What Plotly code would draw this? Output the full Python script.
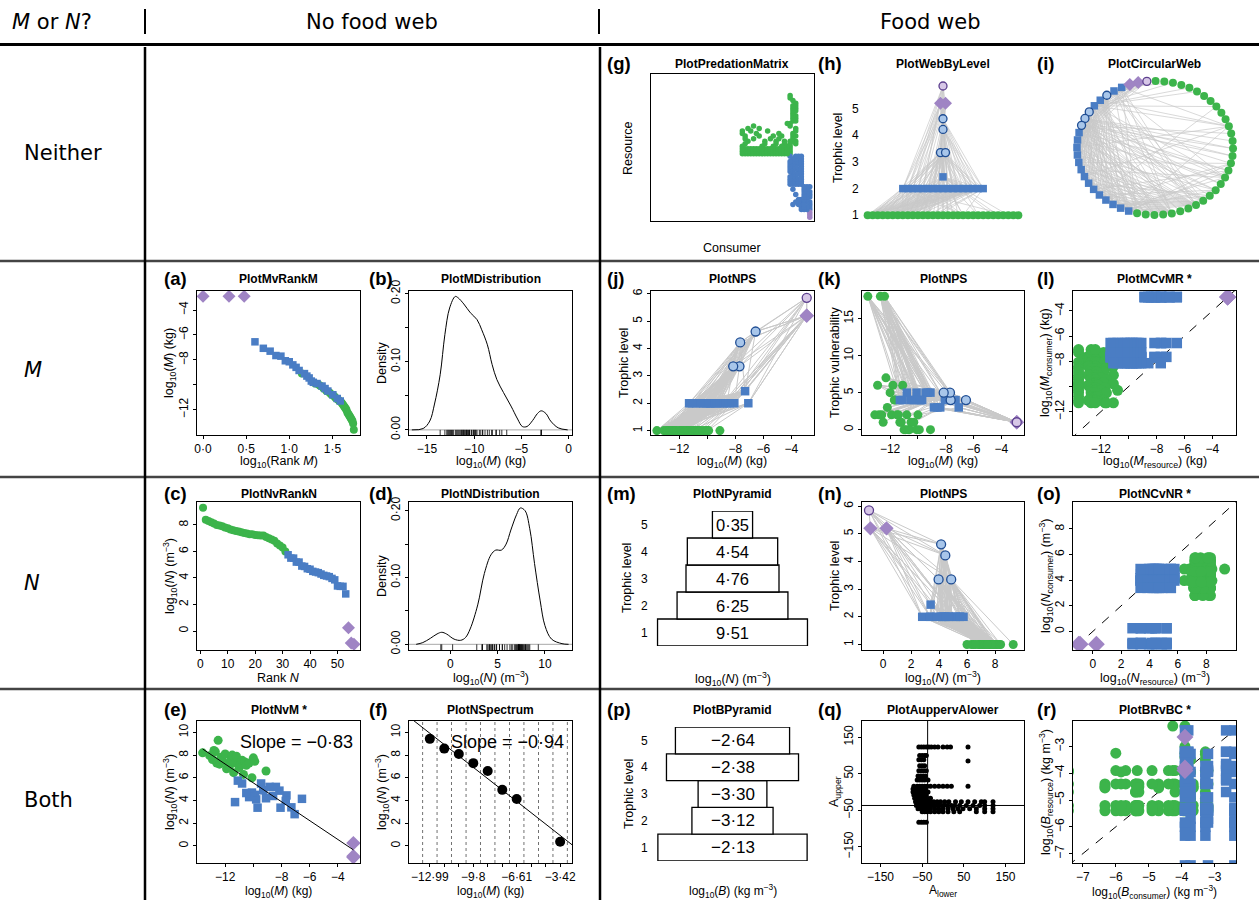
import numpy as np
import plotly.graph_objects as go

W, H = 1259, 900
RF = "Liberation Sans, Arial, Helvetica, sans-serif"
HF = "DejaVu Sans, sans-serif"

GREEN = "#3CB44B"
BLUE = "#4A7DC4"
PURPLE = "#9F84C4"
RB_FILL, RB_LINE = "#A8C6EA", "#1F4D93"
RP_FILL, RP_LINE = "#D7C7E7", "#5C3F8E"
LINK = "#C9C9C9"

# ---------------- data ----------------
GREEN_M = [-13.6, -13.1, -12.9, -12.8, -12.7, -12.6, -12.5, -12.4, -12.3, -12.2,
           -12.0, -11.9, -11.8, -11.7, -11.6, -11.5, -11.4, -11.3, -11.2, -11.1,
           -11.0, -10.9, -10.8, -10.7, -10.6, -10.5, -10.3, -10.1, -10.0, -9.9, -9.1]
GREEN_N = [8.2, 7.95, 7.6, 8.4, 8.3, 7.3, 9.3, 7.2, 7.8, 7.5,
           8.1, 6.8, 7.25, 7.0, 7.65, 8.0, 6.45, 7.35, 7.9, 7.2,
           6.9, 7.22, 7.55, 6.3, 7.4, 7.1, 7.3, 6.0, 7.76, 7.45, 6.6]
BLUE_M = [-6.55, -7.65, -7.7, -8.15, -7.3, -7.07, -8.07, -8.4, -8.6, -8.85,
          -9.1, -9.3, -9.45, -9.7, -9.8, -9.9, -10.1, -10.3, -10.5, -10.8, -11.1, -11.3]
BLUE_N = [4.15, 4.45, 3.97, 4.87, 3.4, 2.8, 3.37, 5.2, 4.4, 5.2,
          4.2, 4.9, 5.5, 3.37, 4.1, 4.5, 4.7, 4.3, 4.66, 5.5, 5.75, 3.86]
BLUE_TL = [4.62, 4.22, 3.35, 3.35, 2.44, 2, 2, 2, 2, 2, 2,
           2, 2, 2, 2, 2, 2, 2, 2, 2, 2, 2]
BLUE_RING = [1, 1, 1, 1, 0, 0, 0, 0, 0, 0, 0, 0, 0, 0, 0, 0, 0, 0, 0, 0, 0, 0]
PURPLE_M = [-2.9, -2.9, -2.9]
PURPLE_N = [-1.0, -0.9, 0.25]
PURPLE_TL = [5.85, 5.2, 5.2]
PURPLE_RING = [1, 0, 0]

DIETS = {
    "B0": "B0 B1 B2 B3 B4 B10 B11 B12 B13 B14 B15 B16 B17 B18 B19 B20 B21",
    "B1": "B2 B3 B4 B10 B11 B12 B14 B15 B16 B18 B19 B20 B21",
    "B2": "G1 G2 G3 G5 G8 G9 G11 G12 G14 G15 G16 G17 B3 B6 B10 B11 B12 B13 B14 B16 B17 B19 B20 B21",
    "B3": "G1 G2 G3 G5 G6 G8 G10 G11 G13 G15 G16 G18 B2 B8 B10 B11 B12 B13 B14 B15 B16 B17 B18 B19 B20",
    "B4": "G0 G4 G7 G8 G12 G19 G22 G25 G26 G28 B10 B11 B12 B13 B15 B16 B17 B18 B19 B21",
    "B5": "G0 G4 G7 G19 G28",
    "B6": "G0 G4 G7 G8 G12",
    "B7": "G0 G4 G7 G19 G2",
    "B8": "G0 G4 G7 G10 G13",
    "B9": "G0 G4 G7 G12 G8",
    "B10": "G0 G4 G7 G19 G2",
    "B11": "G0 G4 G7 G10",
    "B12": "G0 G4 G7 G14",
    "B13": "G0 G4 G7 G8 G12",
    "B14": "G0 G4 G7 G19",
    "B15": "G0 G4 G7 G2 G9",
    "B16": "G0 G4 G7 G13",
    "B17": "G0 G4 G7 G10 G22",
    "B18": "G0 G4 G7 G14",
    "B19": "G0 G4 G7 G8 G9",
    "B20": "G0 G4 G7 G2 G10 G12",
    "B21": "G0 G4 G7 G19 G13 G14",
    "P0": "B0 B1 B2 B3 B5 B6 B7 B9 P0 P1 P2",
    "P1": "B0 B1 B3 B4 B5 B6 B7 B8 B9",
    "P2": "B0 B1 B2 B4 B5 B6 B7 B8 B9",
}

MATRIX_ORDER = ["G30", "G29", "G27", "G24", "G23", "G21", "G20", "G26", "G25",
                "G18", "G17", "G16", "G15", "G11", "G6", "G5", "G3", "G1",
                "G28", "G22", "G9", "G14", "G13", "G2", "G10", "G8", "G12", "G19",
                "G7", "G4", "G0",
                "B21", "B20", "B19", "B18", "B17", "B16", "B15", "B14", "B13", "B12", "B11",
                "B10", "B9", "B8", "B7", "B6", "B5", "B4", "B3", "B2", "B1", "B0",
                "P2", "P1", "P0"]
CIRC_ORDER = ["P0", "P1", "P2", "B5", "B6", "B0", "B7", "B4", "B1", "B2", "B3",
              "B8", "B9", "B10", "B11", "B12", "B13", "B14", "B15", "B16", "B17", "B18",
              "B19", "B20", "B21",
              "G0", "G1", "G2", "G3", "G4", "G5", "G6", "G7", "G8", "G9", "G10", "G11",
              "G12", "G13", "G14", "G15", "G16", "G17", "G18", "G19", "G20", "G21", "G22",
              "G23", "G24", "G25", "G26", "G27", "G28", "G29", "G30"]

MDENS_X = [-16.6, -15.4, -14.7, -14.2, -13.6, -13.1, -12.6, -12.0, -11.7, -11.1, -10.4,
           -9.7, -9.2, -8.6, -8.1, -7.6, -6.9, -6.1, -5.4, -4.9, -4.4, -3.8, -3.3, -2.9,
           -2.4, -1.9, -1.1, -0.1]
MDENS_Y = [0.0, 0.002, 0.013, 0.038, 0.081, 0.140, 0.179, 0.196, 0.194, 0.185, 0.172,
           0.162, 0.147, 0.125, 0.096, 0.074, 0.055, 0.035, 0.016, 0.005, 0.005, 0.014,
           0.024, 0.028, 0.024, 0.013, 0.003, 0.0]
NDENS_X = [-3.6, -2.9, -2.1, -1.4, -0.9, -0.4, 0.4, 1.1, 1.6, 2.1, 2.9, 3.6, 4.3, 4.8,
           5.4, 5.9, 6.4, 7.0, 7.4, 7.9, 8.4, 8.9, 9.5, 10.0, 10.7, 11.8, 12.5]
NDENS_Y = [0.0, 0.0026, 0.009, 0.0155, 0.018, 0.0155, 0.0078, 0.006, 0.010, 0.023, 0.059,
           0.106, 0.134, 0.141, 0.141, 0.150, 0.171, 0.194, 0.204, 0.200, 0.173, 0.121,
           0.065, 0.028, 0.0078, 0.001, 0.0]

SPEC_CENTRES = [-12.99, -11.93, -10.86, -9.80, -8.74, -7.67, -6.61, -5.55, -4.48, -3.42]
SPEC_LABELS = ["\u221212\u00b799", "", "", "\u22129\u00b78", "", "", "\u22126\u00b761", "", "", "\u22123\u00b742"]
SPEC_EDGES = [-13.52, -12.46, -11.40, -10.33, -9.27, -8.21, -7.14, -6.08, -5.01, -3.95, -2.89]
SPEC_PM = [-12.99, -11.93, -10.86, -9.80, -8.74, -7.67, -6.61, -3.42]
SPEC_PN = [9.43, 8.57, 8.09, 7.29, 6.6, 4.94, 4.14, 0.37]
SLOPE_E, ICPT_E = -0.83, -2.75
SLOPE_F, ICPT_F = -0.94, -2.29

PYR_LEVELS = [1, 2, 3, 4, 5]
PYR_N = [9.51, 6.25, 4.76, 4.54, 0.35]
PYR_N_TXT = ["9\u00b751", "6\u00b725", "4\u00b776", "4\u00b754", "0\u00b735"]
PYR_B = [-2.13, -3.12, -3.30, -2.38, -2.64]
PYR_B_TXT = ["\u22122\u00b713", "\u22123\u00b712", "\u22123\u00b730", "\u22122\u00b738", "\u22122\u00b764"]

REF_ANGLE = -36.87
Q_POINTS = [(-58, 123), (-52, 123), (-46, 123), (-40, 123), (-34, 123), (-28, 123), (-20, 123),
            (-12, 123), (0, 123), (10, 123), (18, 123), (60, 123),
            (-56, 100), (-50, 100), (-44, 100), (-40, 100),
            (-58, 88), (-52, 88), (-46, 88), (60, 85),
            (-56, 72), (-50, 72), (-44, 72),
            (-58, 58), (-52, 58), (-46, 58), (-40, 58),
            (-60, 44), (-54, 44), (-48, 44), (-42, 44),
            (-62, 33), (-56, 33), (-50, 33), (-44, 33), (-36, 33),
            (-70, 16), (-62, 16), (-56, 16), (-50, 16), (-44, 16), (-38, 16), (-30, 16),
            (-20, 16), (-10, 16), (0, 16), (10, 16), (20, 16), (60, 16),
            (-72, 8), (-66, 8), (-60, 8), (-54, 8), (-48, 8), (-42, 8),
            (-72, 0), (-66, 0), (-60, 0), (-54, 0), (-48, 0), (-42, 0), (-36, 0),
            (-70, -8), (-64, -8), (-58, -8), (-52, -8), (-46, -8), (-40, -8),
            (-68, -17), (-62, -17), (-56, -17), (-50, -17), (-44, -17), (-38, -17), (-30, -17),
            (-66, -27), (-60, -27), (-54, -27), (-48, -27), (-42, -27), (-36, -27), (-30, -27),
            (-22, -27), (-14, -27), (-6, -27), (4, -27), (14, -27), (30, -27), (44, -27),
            (60, -27), (76, -27), (92, -27), (100, -27), (120, -27),
            (-64, -37), (-58, -37), (-52, -37), (-46, -37), (-40, -37), (-34, -37), (-26, -37),
            (-18, -37), (-10, -37), (0, -37), (10, -37), (20, -37), (28, -37), (40, -37),
            (56, -37), (72, -37), (88, -37), (100, -37), (120, -37),
            (-60, -46), (-54, -46), (-48, -46), (-42, -46), (-36, -46), (-30, -46), (-20, -46),
            (-10, -46), (0, -46), (12, -46), (24, -46), (36, -46), (48, -46), (64, -46),
            (80, -46), (100, -46), (120, -46),
            (-50, -54), (-44, -54), (-38, -54), (-30, -54), (-20, -54), (-10, -54), (0, -54),
            (12, -54), (26, -54), (40, -54), (80, -54), (100, -54), (120, -54),
            (-58, -83), (-52, -83), (-46, -83), (-40, -83)]

# ---------------- assemble species table ----------------
names, cat, M, N, TL, ring = [], [], [], [], [], []
for i, (m, n) in enumerate(zip(GREEN_M, GREEN_N)):
    names.append(f"G{i}"); cat.append("g"); M.append(m); N.append(n); TL.append(1.0); ring.append(0)
for i, (m, n) in enumerate(zip(BLUE_M, BLUE_N)):
    names.append(f"B{i}"); cat.append("b"); M.append(m); N.append(n); TL.append(BLUE_TL[i]); ring.append(BLUE_RING[i])
for i, (m, n) in enumerate(zip(PURPLE_M, PURPLE_N)):
    names.append(f"P{i}"); cat.append("p"); M.append(m); N.append(n); TL.append(PURPLE_TL[i]); ring.append(PURPLE_RING[i])
NS = len(names)
idx = {nm: i for i, nm in enumerate(names)}
B = [M[i] + N[i] for i in range(NS)]
links = [(idx[r], idx[c]) for c, diet in DIETS.items() for r in diet.split()]
vul = [0] * NS
for r, c in links:
    vul[r] += 1

# ---------------- figure helpers ----------------
fig = go.Figure()
layout = dict(width=W, height=H, margin=dict(l=0, r=0, t=0, b=0, autoexpand=False),
              paper_bgcolor="white", plot_bgcolor="white", showlegend=False)
ann, shp = [], []
nax = [0]
MINUS = "\u2212"


def lab(v):
    return f"{v:g}".replace("-", MINUS).replace(".", "\u00b7")


def make_axes(box, xr, yr, xt=None, xl=None, yt=None, yl=None, frame=True,
              yangle=-90, ticklen=3, lw=1):
    nax[0] += 1
    k = nax[0]
    s = "" if k == 1 else str(k)
    x0, y0, x1, y1 = box
    common = dict(showgrid=False, zeroline=False, showline=frame, mirror=frame,
                  linecolor="black", linewidth=lw, ticks="outside", ticklen=ticklen,
                  tickwidth=1, tickcolor="black", automargin=False,
                  tickfont=dict(family=RF, size=12, color="black"), fixedrange=True)
    xa = dict(common, domain=[x0 / W, x1 / W], range=xr, anchor="y" + s)
    ya = dict(common, domain=[1 - y1 / H, 1 - y0 / H], range=yr, anchor="x" + s,
              tickangle=yangle)
    if xt is None:
        xa.update(showticklabels=False, ticks="")
    else:
        xa.update(tickmode="array", tickvals=xt, ticktext=xl if xl else [lab(v) for v in xt])
    if yt is None:
        ya.update(showticklabels=False, ticks="")
    else:
        ya.update(tickmode="array", tickvals=yt, ticktext=yl if yl else [lab(v) for v in yt])
    layout["xaxis" + s] = xa
    layout["yaxis" + s] = ya
    if frame and xt is not None and yt is not None:
        # R-style inward ticks on the top and right edges of the box
        mirror_common = dict(showgrid=False, zeroline=False, showline=False,
                             ticks="inside", ticklen=3, tickwidth=1, tickcolor="black",
                             showticklabels=False, fixedrange=True, tickmode="array")
        layout[f"xaxis{k + 100}"] = dict(mirror_common, overlaying="x" + s, anchor="y" + s,
                                         side="top", range=xr, tickvals=xt)
        layout[f"yaxis{k + 100}"] = dict(mirror_common, overlaying="y" + s, anchor="x" + s,
                                         side="right", range=yr, tickvals=yt)
    return "x" + s, "y" + s


def text(x, y, s, size=12.5, angle=0, xanchor="center", family=RF):
    ann.append(dict(x=x / W, y=1 - y / H, xref="paper", yref="paper", text=s,
                    showarrow=False, textangle=angle, xanchor=xanchor, yanchor="middle",
                    font=dict(family=family, size=size, color="black")))


def hline(x0, x1, y, color="black", width=2):
    shp.append(dict(type="line", xref="paper", yref="paper", x0=x0 / W, x1=x1 / W,
                    y0=1 - y / H, y1=1 - y / H, line=dict(color=color, width=width)))


def vline(x, y0, y1, color="black", width=2):
    shp.append(dict(type="line", xref="paper", yref="paper", x0=x / W, x1=x / W,
                    y0=1 - y0 / H, y1=1 - y1 / H, line=dict(color=color, width=width)))


def marker_for(c, r, size):
    if c == "g":
        return dict(symbol="circle", color=GREEN, size=size, line=dict(width=0))
    if c == "b":
        if r:
            return dict(symbol="circle", color=RB_FILL, size=size, line=dict(color=RB_LINE, width=1.3))
        return dict(symbol="square", color=BLUE, size=size - 0.5, line=dict(width=0))
    if r:
        return dict(symbol="circle", color=RP_FILL, size=size, line=dict(color=RP_LINE, width=1.3))
    return dict(symbol="diamond", color=PURPLE, size=size + 2, line=dict(width=0))


def nodes(xs, ys, cats, rings, ax, size=9, clip=True):
    for c, r in [("g", 0), ("b", 0), ("p", 0), ("b", 1), ("p", 1)]:
        sel = [i for i in range(len(xs)) if cats[i] == c and rings[i] == r]
        if not sel:
            continue
        fig.add_trace(go.Scatter(x=[xs[i] for i in sel], y=[ys[i] for i in sel],
                                 mode="markers", marker=marker_for(c, r, size),
                                 xaxis=ax[0], yaxis=ax[1], hoverinfo="skip",
                                 cliponaxis=clip))


def segs(pairs, xv, yv, ax, color=LINK, width=1.0, dash=None):
    xs, ys = [], []
    for a, b in pairs:
        xs += [xv[a], xv[b], None]
        ys += [yv[a], yv[b], None]
    fig.add_trace(go.Scatter(x=xs, y=ys, mode="lines",
                             line=dict(color=color, width=width, dash=dash),
                             xaxis=ax[0], yaxis=ax[1], hoverinfo="skip"))


def line(xs, ys, ax, color="black", width=1, dash=None, shape="linear"):
    fig.add_trace(go.Scatter(x=xs, y=ys, mode="lines",
                             line=dict(color=color, width=width, dash=dash, shape=shape),
                             xaxis=ax[0], yaxis=ax[1], hoverinfo="skip"))


def rug(vals, y0, y1, ax):
    xs, ys = [], []
    for v in vals:
        xs += [v, v, None]
        ys += [y0, y1, None]
    fig.add_trace(go.Scatter(x=xs, y=ys, mode="lines", line=dict(color="black", width=0.8),
                             xaxis=ax[0], yaxis=ax[1], hoverinfo="skip"))


# layout geometry (pixels)
CA, CB, CC, CD, CE = (197, 360), (409, 572), (651, 814), (862, 1024), (1073, 1236)
R0, R1, R2, R3 = (74, 221), (291, 435), (502, 650), (721, 863)
TY = {0: 64, 1: 279, 2: 494, 3: 710}
XT = {1: 462, 2: 678, 3: 892}
LX = {"A": 162, "B": 367, "C": 605, "D": 816, "E": 1035}


def box(col, row):
    return (col[0], row[0], col[1], row[1])


def heading(letter, title, col, colkey, row):
    text(LX[colkey], TY[row] - 1, f"<b>({letter})</b>", size=18.5, xanchor="left")
    text((col[0] + col[1]) / 2, TY[row], f"<b>{title}</b>", size=12)


def xtitle(col, row, s):
    text((col[0] + col[1]) / 2, XT[row], s, size=12.5 if row < 3 else 12)


def ytitle(col, rowr, s):
    text(col[0] - 27, (rowr[0] + rowr[1]) / 2, s, angle=-90)


LOGM = "log<sub>10</sub>(<i>M</i>) (kg)"
LOGN = "log<sub>10</sub>(<i>N</i>) (m<sup>\u22123</sup>)"
MT = [-12, -10, -8, -6, -4]
MTL = [MINUS + "12", "", MINUS + "8", MINUS + "6", MINUS + "4"]

# ---------------- (a) M v rank M ----------------
ax = make_axes(box(CA, R1), [-0.07, 1.82], [-14.03, -2.47], xt=[0, 0.5, 1.0, 1.5],
               xl=["0\u00b70", "0\u00b75", "1\u00b70", "1\u00b75"],
               yt=[-12, -10, -8, -6, -4], yl=[MINUS + "12", "", MINUS + "8", MINUS + "6", MINUS + "4"])
order = sorted(range(NS), key=lambda i: -M[i])
lr = np.log10(np.arange(1, NS + 1))
nodes(list(lr), [M[i] for i in order], [cat[i] for i in order], [0] * NS, ax, size=8)
heading("a", "PlotMvRankM", CA, "A", 1)
xtitle(CA, 1, "log<sub>10</sub>(Rank <i>M</i>)")
ytitle(CA, R1, LOGM)

# ---------------- (b) M distribution ----------------
ax = make_axes(box(CB, R1), [-16.9, 0.36], [-0.0075, 0.204], xt=[-15, -10, -5, 0],
               yt=[0, 0.05, 0.10, 0.15, 0.20], yl=["0\u00b700", "", "0\u00b710", "", "0\u00b720"])
line([-16.9, 0.36], [0, 0], ax, color="#A8A8A8", width=1)
rug(M, -0.0075, 0.0, ax)
line(MDENS_X, MDENS_Y, ax, width=1, shape="spline")
heading("b", "PlotMDistribution", CB, "B", 1)
xtitle(CB, 1, LOGM)
ytitle(CB, R1, "Density")

# ---------------- (c) N v rank N ----------------
ax = make_axes(box(CA, R2), [-1.2, 58.2], [-1.43, 9.73], xt=[0, 10, 20, 30, 40, 50],
               yt=[0, 2, 4, 6, 8])
order = sorted(range(NS), key=lambda i: -N[i])
nodes(list(range(1, NS + 1)), [N[i] for i in order], [cat[i] for i in order], [0] * NS, ax, size=8)
heading("c", "PlotNvRankN", CA, "A", 2)
xtitle(CA, 2, "Rank <i>N</i>")
ytitle(CA, R2, LOGN)

# ---------------- (d) N distribution ----------------
ax = make_axes(box(CB, R2), [-4.36, 12.86], [-0.0085, 0.213], xt=[0, 5, 10],
               yt=[0, 0.05, 0.10, 0.15, 0.20], yl=["0\u00b700", "", "0\u00b710", "", "0\u00b720"])
line([-4.36, 12.86], [0, 0], ax, color="#A8A8A8", width=1)
rug(N, -0.0085, 0.0, ax)
line(NDENS_X, NDENS_Y, ax, width=1, shape="spline")
heading("d", "PlotNDistribution", CB, "B", 2)
xtitle(CB, 2, LOGN)
ytitle(CB, R2, "Density")

# ---------------- (e) N v M ----------------
ax = make_axes(box(CA, R3), [-14.0, -2.43], [-1.5, 11.0], xt=MT, xl=MTL, yt=[0, 2, 4, 6, 8, 10])
nodes(M, N, cat, [0] * NS, ax, size=9)
mx = [min(M), max(M)]
line(mx, [ICPT_E + SLOPE_E * v for v in mx], ax, width=1)
text(355, 742, "Slope = " + MINUS + "0\u00b783", size=18, xanchor="right")
heading("e", "PlotNvM *", CA, "A", 3)
xtitle(CA, 3, LOGM)
ytitle(CA, R3, LOGN)

# ---------------- (f) N spectrum ----------------
ax = make_axes(box(CB, R3), [-14.52, -2.55], [-1.5, 11.0], xt=SPEC_CENTRES, xl=SPEC_LABELS,
               yt=[0, 2, 4, 6, 8, 10])
xs, ys = [], []
for e in SPEC_EDGES:
    xs += [e, e, None]
    ys += [-1.5, 11.0, None]
fig.add_trace(go.Scatter(x=xs, y=ys, mode="lines", line=dict(color="#333333", width=0.7, dash="dot"),
                         xaxis=ax[0], yaxis=ax[1], hoverinfo="skip"))
fx = [-14.52, -2.55]
line(fx, [ICPT_F + SLOPE_F * v for v in fx], ax, width=1)
fig.add_trace(go.Scatter(x=SPEC_PM, y=SPEC_PN, mode="markers",
                         marker=dict(color="black", size=10), xaxis=ax[0], yaxis=ax[1],
                         hoverinfo="skip"))
text(566, 742, "Slope = " + MINUS + "0\u00b794", size=18, xanchor="right")
heading("f", "PlotNSpectrum", CB, "B", 3)
xtitle(CB, 3, LOGM)
ytitle(CB, R3, LOGN)

# ---------------- (g) predation matrix ----------------
ax = make_axes(box(CC, R0), [-1.5, 56.5], [56.5, -1.5], lw=1.4)
mpos = {nm: i for i, nm in enumerate(MATRIX_ORDER)}
gx = [mpos[names[c]] for r, c in links]
gy = [mpos[names[r]] for r, c in links]
gcol = [{"g": GREEN, "b": BLUE, "p": PURPLE}[cat[r]] for r, c in links]
fig.add_trace(go.Scatter(x=gx, y=gy, mode="markers",
                         marker=dict(color=gcol, size=5.5, symbol="circle", line=dict(width=0)),
                         xaxis=ax[0], yaxis=ax[1], hoverinfo="skip"))
heading("g", "PlotPredationMatrix", CC, "C", 0)
text(732, 248, "Consumer")
text(628, 148, "Resource", angle=-90)

# ---------------- (h) web by level ----------------
ax = make_axes(box(CD, R0), [0, 1], [0.784, 6.3], yt=[1, 2, 3, 4, 5], frame=False,
               yangle=0, ticklen=0)
groups = {}
for i in range(NS):
    groups.setdefault(TL[i], []).append(i)
hx = [0.0] * NS
for tl, mem in groups.items():
    for j, i in enumerate(mem):
        hx[i] = 0.5 + (j - (len(mem) - 1) / 2) * 0.031
segs(links, hx, TL, ax, width=0.7)
nodes(hx, TL, cat, ring, ax, size=8, clip=False)
heading("h", "PlotWebByLevel", CD, "D", 0)
text(838, 148, "Trophic level", angle=-90)

# ---------------- (i) circular web ----------------
ax = make_axes(box(CE, R0), [-1.051, 1.038], [-1.09, 1.104], frame=False)
cx, cy = [0.0] * NS, [0.0] * NS
for k, nm in enumerate(CIRC_ORDER):
    a = np.deg2rad(96 + k * 360.0 / NS)
    cx[idx[nm]] = float(np.cos(a))
    cy[idx[nm]] = float(np.sin(a))
segs(links, cx, cy, ax, width=0.7)
nodes(cx, cy, cat, ring, ax, size=8, clip=False)
heading("i", "PlotCircularWeb", CE, "E", 0)

# ---------------- (j) NPS: TL v M ----------------
ax = make_axes(box(CC, R1), [-14.02, -2.38], [0.84, 6.1], xt=MT, xl=MTL, yt=[1, 2, 3, 4, 5, 6])
segs(links, M, TL, ax, width=1)
nodes(M, TL, cat, ring, ax, size=9)
heading("j", "PlotNPS", CC, "C", 1)
xtitle(CC, 1, LOGM)
ytitle(CC, R1, "Trophic level")

# ---------------- (k) NPS: vulnerability v M ----------------
ax = make_axes(box(CD, R1), [-14.02, -2.38], [-0.72, 18.72], xt=MT, xl=MTL, yt=[0, 5, 10, 15])
segs(links, M, vul, ax, width=1)
nodes(M, vul, cat, ring, ax, size=9)
heading("k", "PlotNPS", CD, "D", 1)
xtitle(CD, 1, LOGM)
ytitle(CD, R1, "Trophic vulnerability")

# ---------------- (l) M consumer v M resource ----------------
ax = make_axes(box(CE, R1), [-14.0, -2.3], [-13.85, -2.42], xt=MT, xl=MTL,
               yt=[-12, -10, -8, -6, -4], yl=[MINUS + "12", "", MINUS + "8", MINUS + "6", MINUS + "4"])
line([-20, 0], [-20, 0], ax, width=1, dash="dash")
nodes([M[r] for r, c in links], [M[c] for r, c in links], [cat[r] for r, c in links],
      [0] * len(links), ax, size=11)
heading("l", "PlotMCvMR *", CE, "E", 1)
xtitle(CE, 1, "log<sub>10</sub>(<i>M</i><sub>resource</sub>) (kg)")
ytitle(CE, R1, "log<sub>10</sub>(<i>M</i><sub>consumer</sub>) (kg)")

# ---------------- (m) N pyramid ----------------
ax = make_axes((651, 511, 814, 646), [-6.8, 6.8], [0.5, 5.5], yt=[1, 2, 3, 4, 5],
               frame=False, yangle=0, ticklen=0)
wN = [v + 3.0 for v in PYR_N]
fig.add_trace(go.Bar(y=PYR_LEVELS, x=wN, base=[-w / 2 for w in wN], orientation="h", width=1.0,
                     marker=dict(color="white", line=dict(color="black", width=1.3)),
                     xaxis=ax[0], yaxis=ax[1], hoverinfo="skip"))
for lv, t in zip(PYR_LEVELS, PYR_N_TXT):
    ann.append(dict(x=0, y=lv, xref=ax[0], yref=ax[1], text=t, showarrow=False,
                    font=dict(family=RF, size=16.5, color="black")))
heading("m", "PlotNPyramid", CC, "C", 2)
text(733, 679, LOGN)
text(627, 578, "Trophic level", angle=-90)

# ---------------- (n) NPS: TL v N ----------------
ax = make_axes(box(CD, R2), [-1.5, 10.07], [0.8, 6.15], xt=[0, 2, 4, 6, 8], yt=[1, 2, 3, 4, 5, 6])
segs(links, N, TL, ax, width=1)
nodes(N, TL, cat, ring, ax, size=9)
heading("n", "PlotNPS", CD, "D", 2)
xtitle(CD, 2, LOGN)
ytitle(CD, R2, "Trophic level")

# ---------------- (o) N consumer v N resource ----------------
ax = make_axes(box(CE, R2), [-1.4, 10.1], [-1.45, 10.1], xt=[0, 2, 4, 6, 8], yt=[0, 2, 4, 6, 8])
line([-5, 15], [-5, 15], ax, width=1, dash="dash")
nodes([N[r] for r, c in links], [N[c] for r, c in links], [cat[r] for r, c in links],
      [0] * len(links), ax, size=11)
heading("o", "PlotNCvNR *", CE, "E", 2)
xtitle(CE, 2, "log<sub>10</sub>(<i>N</i><sub>resource</sub>) (m<sup>\u22123</sup>)")
ytitle(CE, R2, "log<sub>10</sub>(<i>N</i><sub>consumer</sub>) (m<sup>\u22123</sup>)")

# ---------------- (p) B pyramid ----------------
ax = make_axes((651, 727, 814, 861), [-1.185, 1.185], [0.5, 5.5], yt=[1, 2, 3, 4, 5],
               frame=False, yangle=0, ticklen=0)
wB = [v + 4.3 for v in PYR_B]
fig.add_trace(go.Bar(y=PYR_LEVELS, x=wB, base=[-w / 2 for w in wB], orientation="h", width=1.0,
                     marker=dict(color="white", line=dict(color="black", width=1.3)),
                     xaxis=ax[0], yaxis=ax[1], hoverinfo="skip"))
for lv, t in zip(PYR_LEVELS, PYR_B_TXT):
    ann.append(dict(x=0, y=lv, xref=ax[0], yref=ax[1], text=t, showarrow=False,
                    font=dict(family=RF, size=17, color="black")))
heading("p", "PlotBPyramid", CC, "C", 3)
text(733, 891, "log<sub>10</sub>(<i>B</i>) (kg m<sup>\u22123</sup>)", size=12)
text(629, 794, "Trophic level", angle=-90)

# ---------------- (q) A upper v A lower ----------------
ax = make_axes(box(CD, R3), [-194.4, 194.4], [-194.4, 194.4], xt=[-150, -50, 50, 150],
               yt=[-150, -50, 50, 150])
line([REF_ANGLE, REF_ANGLE], [-194.4, 194.4], ax, width=1)
line([-194.4, 194.4], [REF_ANGLE, REF_ANGLE], ax, width=1)
fig.add_trace(go.Scatter(x=[p[0] for p in Q_POINTS], y=[p[1] for p in Q_POINTS], mode="markers",
                         marker=dict(color="black", size=5), xaxis=ax[0], yaxis=ax[1],
                         hoverinfo="skip"))
heading("q", "PlotAuppervAlower", CD, "D", 3)
text(943, 891, "A<sub>lower</sub>", size=12)
ytitle(CD, R3, "A<sub>upper</sub>")

# ---------------- (r) B resource v B consumer ----------------
ax = make_axes(box(CE, R3), [-7.3, -2.35], [-7.35, -2.05], xt=[-7, -6, -5, -4, -3],
               yt=[-7, -6, -5, -4, -3])
line([-10, 0], [-10, 0], ax, width=1, dash="dash")
nodes([B[c] for r, c in links], [B[r] for r, c in links], [cat[r] for r, c in links],
      [0] * len(links), ax, size=11)
heading("r", "PlotBRvBC *", CE, "E", 3)
xtitle(CE, 3, "log<sub>10</sub>(<i>B</i><sub>consumer</sub>) (kg m<sup>\u22123</sup>)")
ytitle(CE, R3, "log<sub>10</sub>(<i>B</i><sub>resource</sub>) (kg m<sup>\u22123</sup>)")

# ---------------- table frame and headers ----------------
text(10, 22, "<i>M</i> or <i>N</i>?", size=21, xanchor="left", family=HF)
text(372, 22, "No food web", size=21, family=HF)
text(930, 22, "Food web", size=21, family=HF)
vline(145, 9, 34, width=2)
vline(599, 9, 34, width=2)
hline(0, W, 44.5, width=3)
for y in (261, 477, 689):
    hline(0, W, y, color="#444444", width=2.5)
vline(145, 47, 900, width=2.5)
vline(600, 47, 900, width=2.5)
text(22, 153, "Neither", size=21, xanchor="left", family=HF)
text(22, 370, "<i>M</i>", size=21, xanchor="left", family=HF)
text(22, 583, "<i>N</i>", size=21, xanchor="left", family=HF)
text(22, 800, "Both", size=21, xanchor="left", family=HF)

layout["annotations"] = ann
layout["shapes"] = shp
fig.update_layout(**layout)
fig.write_html("out.html", config={"displayModeBar": False},
               post_script="document.body.style.margin='0';")
